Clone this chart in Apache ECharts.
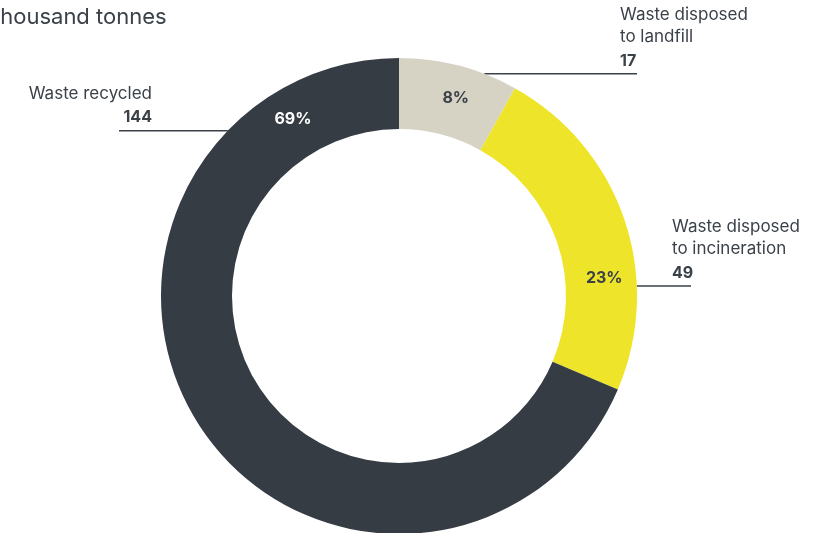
<!DOCTYPE html>
<html><head><meta charset="utf-8">
<script src="https://cdn.jsdelivr.net/npm/echarts@6/dist/echarts.min.js"></script>
<style>html,body{margin:0;padding:0;background:#fff}#c{width:825px;height:533px}</style>
</head><body><div id="c"></div>
<script>
// ---- data ----
const categories = ['Waste disposed\nto landfill', 'Waste disposed\nto incineration', 'Waste recycled'];
const values = [17, 49, 144];
const colors = ['#d6d3c5', '#eee52a', '#353c43'];
const titleText = 'Thousand tonnes';

// ---- layout ----
const FONT = 'Inter, "Noto Sans", sans-serif';
const TXT = '#3a4148';
const CX = 399, CY = 296, R_IN = 167, R_OUT = 238;
const pctAngle = [16, 85, 329];
const pctRadius = 206;
const pctColor = [TXT, TXT, '#ffffff'];
const lineAngle = [21, 87.6, 314];
const lineEndX = [637, 691, 119];
const textX = [620, 672, 152];
const textAlign = ['left', 'left', 'right'];

const total = values.reduce((a, b) => a + b, 0);
const rad = d => d * Math.PI / 180;

const chart = echarts.init(document.getElementById('c'), null, {renderer: 'canvas'});
chart.setOption({
  animation: false,
  title: {
    text: titleText, left: -14, top: 6, padding: 0,
    textStyle: {fontFamily: FONT, fontSize: 22, fontWeight: 'normal', color: TXT}
  },
  series: [
    {
      type: 'pie', center: [CX, CY], radius: [R_IN, R_OUT], startAngle: 90, clockwise: true,
      avoidLabelOverlap: false, silent: true, z: 2,
      data: values.map((v, i) => ({
        value: v, name: categories[i],
        itemStyle: {color: colors[i]},
        label: {color: pctColor[i]}
      })),
      label: {
        show: true, position: 'inside',
        formatter: p => Math.round(p.value / total * 100) + '%',
        fontFamily: FONT, fontSize: 16, fontWeight: 'bold'
      },
      labelLine: {show: false},
      labelLayout: p => {
        const a = rad(pctAngle[p.dataIndex]);
        return {x: CX + pctRadius * Math.sin(a), y: CY - pctRadius * Math.cos(a), align: 'center', verticalAlign: 'middle'};
      }
    },
    {
      type: 'pie', center: [CX, CY], radius: [R_IN, R_OUT], startAngle: 90, clockwise: true,
      avoidLabelOverlap: false, silent: true, z: 1,
      data: values.map((v, i) => ({value: v, name: categories[i], itemStyle: {color: 'rgba(0,0,0,0)'}})),
      label: {
        show: true, position: 'outside', alignTo: 'none',
        formatter: p => '{n|' + p.name + '}\n{v|' + p.value + '}',
        rich: {
          n: {fontFamily: FONT, fontSize: 17, color: TXT, lineHeight: 22},
          v: {fontFamily: FONT, fontSize: 16, fontWeight: 'bold', color: TXT, lineHeight: 26}
        }
      },
      labelLine: {show: true, length: 10, length2: 10, smooth: false, lineStyle: {color: '#3a4148', width: 1.5}},
      labelLayout: p => {
        const i = p.dataIndex;
        const a = rad(lineAngle[i]);
        const sx = CX + R_OUT * Math.sin(a), sy = CY - R_OUT * Math.cos(a);
        return {
          x: textX[i], y: sy, align: textAlign[i], verticalAlign: 'bottom',
          labelLinePoints: [[sx, sy], [(sx + lineEndX[i]) / 2, sy], [lineEndX[i], sy]]
        };
      }
    }
  ]
});
</script></body></html>
